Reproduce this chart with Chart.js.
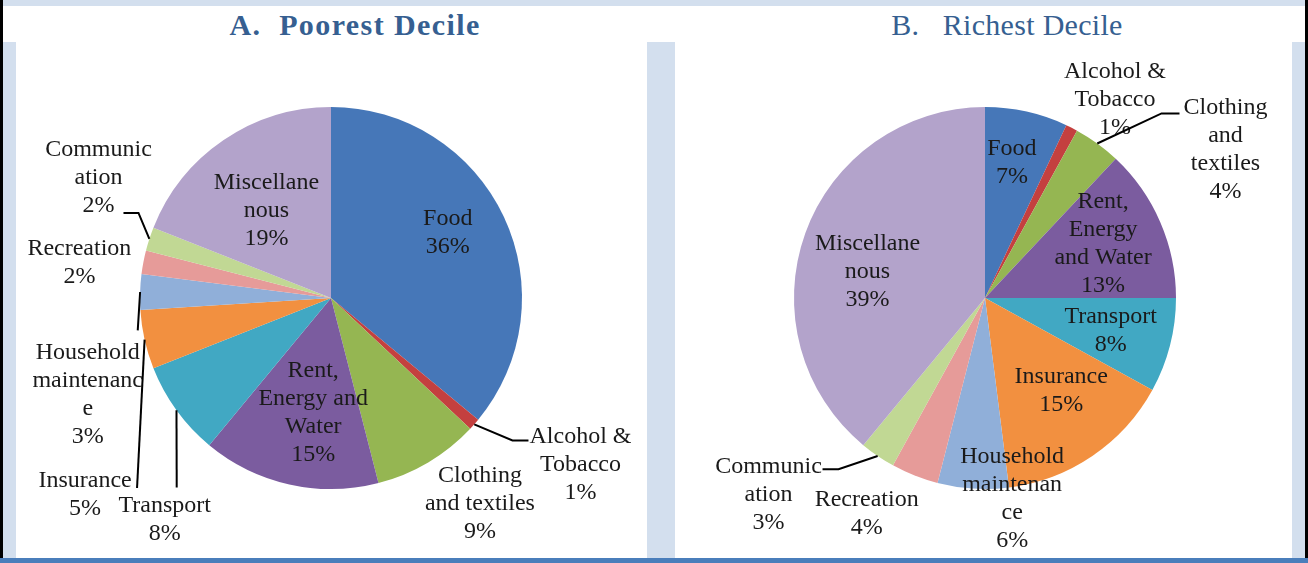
<!DOCTYPE html>
<html>
<head>
<meta charset="utf-8">
<script src="https://cdn.jsdelivr.net/npm/chart.js@4.4.0/dist/chart.umd.min.js"></script>
<style>
  body { margin: 0; width: 1308px; height: 563px; position: relative; overflow: hidden; background: #fff; font-family: "Liberation Serif", "Times New Roman", serif; }
  .band { position: absolute; background: #d3dfee; }
  .edge { position: absolute; background: #000; top: 0; width: 3px; height: 559px; }
  .title { position: absolute; top: 7px; height: 36px; line-height: 36px; text-align: center; color: #365f91; white-space: pre; }
  canvas { position: absolute; }
</style>
</head>
<body>
<div class="band" style="left:3px;top:0;width:1302px;height:6px"></div>
<div class="band" style="left:3px;top:42px;width:13px;height:517px"></div>
<div class="band" style="left:647px;top:42px;width:28px;height:517px"></div>
<div class="band" style="left:1292px;top:42px;width:13px;height:517px"></div>
<div class="edge" style="left:0"></div>
<div class="edge" style="left:1305px"></div>
<div style="position:absolute;left:0;top:558px;width:1308px;height:5px;background:#4a7ebb"></div>

<div class="title" style="left:0;width:710px;font-weight:bold;font-size:30px;letter-spacing:1.4px">A.  Poorest Decile</div>
<div class="title" style="left:707px;width:600px;font-size:30px;letter-spacing:0.3px">B.   Richest Decile</div>

<canvas id="poorChart" width="631" height="516" style="left:16px;top:42px"></canvas>
<canvas id="richChart" width="617" height="516" style="left:675px;top:42px"></canvas>

<script>
// expenditure shares (%) by category
const categories = ['Food', 'Alcohol & Tobacco', 'Clothing and textiles', 'Rent, Energy and Water',
    'Transport', 'Insurance', 'Household maintenance', 'Recreation', 'Communication', 'Miscellanenous'];
const poorestShares = [36, 1, 9, 15, 8, 5, 3, 2, 2, 19];
const richestShares = [7, 1, 4, 13, 8, 15, 6, 4, 3, 39];
const sliceColors = ['#4677b8', '#c4403f', '#95b652', '#7b5c9f', '#41a8c3', '#f29040',
    '#90afd9', '#e69b99', '#c1d894', '#b3a3cb'];

// wrapped label text, as laid out in each pie
const poorestLabelText = ['Food', 'Alcohol &\nTobacco', 'Clothing\nand textiles', 'Rent,\nEnergy and\nWater',
    'Transport', 'Insurance', 'Household\nmaintenanc\ne', 'Recreation', 'Communic\nation', 'Miscellane\nnous'];
const richestLabelText = ['Food', 'Alcohol &\nTobacco', 'Clothing\nand\ntextiles', 'Rent,\nEnergy\nand Water',
    'Transport', 'Insurance', 'Household\nmaintenan\nce', 'Recreation', 'Communic\nation', 'Miscellane\nnous'];

// label placement: r = distance as fraction of radius, da = degrees off slice middle,
// leader = points relative to label centre (line starts on the slice rim)
const poorestPlacement = [
    { r: 0.70, da: -4 },
    { r: 1.57, da: -7.7, leader: [[-68, -24], [-52, -24]] },
    { r: 1.33, da: -5.3 },
    { r: 0.61, da: -3.8 },
    { r: 1.45, da: -17.1, leader: [[12, -32]] },
    { r: 1.65, da: -26.1, leader: [[52, -7]] },
    { r: 1.37, da: -23.4, leader: [[50, -64]] },
    { r: 1.33, da: -2.9 },
    { r: 1.37, da: 9.3, leader: [[40, 35], [25, 35]] },
    { r: 0.57, da: -2.2 }
];
const richestPlacement = [
    { r: 0.72, da: -1.3 },
    { r: 1.24, da: 6.3 },
    { r: 1.48, da: 22.3, leader: [[-64, -36], [-46, -36]] },
    { r: 0.68, da: -1.2 },
    { r: 0.68, da: 0.3 },
    { r: 0.63, da: -5.1 },
    { r: 1.06, da: -11.3 },
    { r: 1.29, da: 7.1 },
    { r: 1.53, da: 13.6, leader: [[70, -25], [54, -25]] },
    { r: 0.63, da: -7.3 }
];

const LINE_H = 28;

const sliceLabels = {
    id: 'sliceLabels',
    afterDatasetsDraw(chart, args, opts) {
        const ctx = chart.ctx;
        const meta = chart.getDatasetMeta(0);
        const values = chart.data.datasets[0].data;
        ctx.save();
        ctx.font = '24px "Liberation Serif", "Times New Roman", serif';
        ctx.fillStyle = '#1a1a1a';
        ctx.textAlign = 'center';
        ctx.textBaseline = 'middle';
        meta.data.forEach((arc, i) => {
            const p = opts.placement[i];
            const mid = (arc.startAngle + arc.endAngle) / 2;
            const a = mid + p.da * Math.PI / 180;
            const lx = arc.x + Math.cos(a) * arc.outerRadius * p.r;
            const ly = arc.y + Math.sin(a) * arc.outerRadius * p.r;
            if (p.leader) {
                ctx.beginPath();
                ctx.strokeStyle = '#000';
                ctx.lineWidth = 2;
                ctx.moveTo(arc.x + Math.cos(mid) * arc.outerRadius, arc.y + Math.sin(mid) * arc.outerRadius);
                p.leader.forEach(pt => ctx.lineTo(lx + pt[0], ly + pt[1]));
                ctx.stroke();
            }
            const lines = opts.text[i].split('\n').concat(Math.round(values[i]) + '%');
            lines.forEach((s, k) => {
                ctx.fillText(s, lx, ly + (k - (lines.length - 1) / 2) * LINE_H);
            });
        });
        ctx.restore();
    }
};

function pieChart(canvasId, shares, labelText, placement, cx, cy, radius) {
    const canvas = document.getElementById(canvasId);
    new Chart(canvas.getContext('2d'), {
        type: 'pie',
        data: {
            labels: categories,
            datasets: [{
                data: shares,
                backgroundColor: sliceColors,
                borderWidth: 0
            }]
        },
        options: {
            responsive: false,
            animation: false,
            layout: {
                padding: {
                    left: cx - radius,
                    right: canvas.width - cx - radius,
                    top: cy - radius,
                    bottom: canvas.height - cy - radius
                }
            },
            plugins: {
                legend: { display: false },
                tooltip: { enabled: false },
                sliceLabels: { text: labelText, placement: placement }
            }
        },
        plugins: [sliceLabels]
    });
}

// Poorest decile
pieChart('poorChart', poorestShares, poorestLabelText, poorestPlacement, 315, 256, 191);
// Richest decile
pieChart('richChart', richestShares, richestLabelText, richestPlacement, 310, 256, 191);
</script>
</body>
</html>
